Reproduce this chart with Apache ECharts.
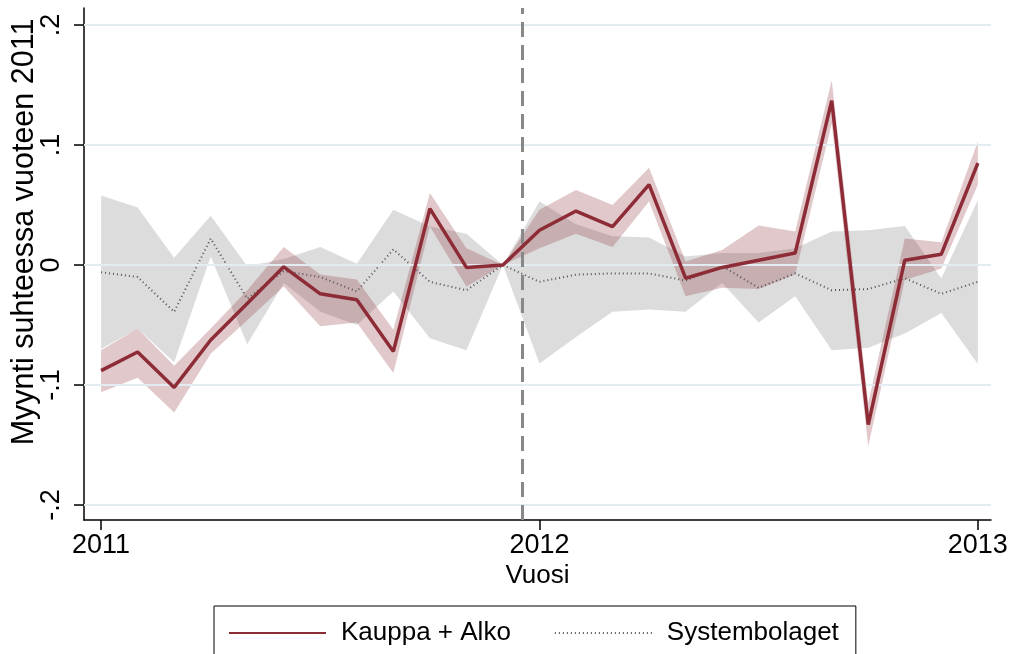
<!DOCTYPE html>
<html>
<head>
<meta charset="utf-8">
<script src="https://cdn.jsdelivr.net/npm/echarts@6/dist/echarts.min.js"></script>
<style>
  html, body { margin: 0; padding: 0; background: #fff; }
  #chart { width: 1011px; height: 654px; }
</style>
</head>
<body>
<div id="chart"></div>
<script>
// monthly observations, Jan 2011 .. Jan 2013
const months = ['2011-01','2011-02','2011-03','2011-04','2011-05','2011-06','2011-07','2011-08','2011-09','2011-10','2011-11','2011-12',
                '2012-01','2012-02','2012-03','2012-04','2012-05','2012-06','2012-07','2012-08','2012-09','2012-10','2012-11','2012-12','2013-01'];

// Kauppa + Alko, with confidence band
const kauppa     = [-0.088, -0.0725, -0.102, -0.0625, -0.032, -0.0015, -0.024, -0.029, -0.072, 0.047, -0.002, 0,
                    0.029, 0.045, 0.032, 0.067, -0.011, -0.002, 0.004, 0.010, 0.137, -0.133, 0.004, 0.009, 0.085];
const kauppaLow  = [-0.106, -0.094, -0.123, -0.074, -0.046, -0.018, -0.051, -0.048, -0.090, 0.032, -0.018, 0,
                    0.014, 0.026, 0.015, 0.053, -0.026, -0.019, -0.020, -0.008, 0.118, -0.151, -0.0125, -0.003, 0.067];
const kauppaHigh = [-0.071, -0.053, -0.084, -0.053, -0.021, 0.015, -0.008, -0.012, -0.054, 0.060, 0.014, 0,
                    0.046, 0.0625, 0.050, 0.081, 0.003, 0.0125, 0.033, 0.028, 0.154, -0.115, 0.022, 0.019, 0.103];

// Systembolaget, with confidence band
const sysbol     = [-0.006, -0.010, -0.039, 0.022, -0.028, -0.005, -0.010, -0.022, 0.013, -0.014, -0.021, 0,
                    -0.014, -0.008, -0.007, -0.007, -0.013, -0.001, -0.019, -0.007, -0.021, -0.020, -0.011, -0.024, -0.014];
const sysbolLow  = [-0.070, -0.053, -0.081, 0.007, -0.066, -0.015, -0.039, -0.050, -0.022, -0.061, -0.071, 0,
                    -0.082, -0.060, -0.039, -0.037, -0.039, -0.015, -0.048, -0.026, -0.071, -0.069, -0.057, -0.040, -0.0825];
const sysbolHigh = [0.058, 0.048, 0.006, 0.041, -0.001, 0.005, 0.015, 0.001, 0.046, 0.032, 0.026, 0,
                    0.053, 0.034, 0.024, 0.023, 0.007, 0.010, 0.010, 0.014, 0.028, 0.029, 0.0325, -0.011, 0.054];

const yTicks = [-0.2, -0.1, 0, 0.1, 0.2];
const yTickLabels = ['-.2', '-.1', '0', '.1', '.2'];
const xTicks = [2011, 2012, 2013];
const cutoff = 2011.9583;   // dashed reference line

const FONT = "'Liberation Sans', Arial, sans-serif";
const RED = '#8d2c37';

const xs = months.map(m => {
  const [y, mo] = m.split('-').map(Number);
  return y + (mo - 1) / 12;
});
const pairs = vals => vals.map((v, i) => [xs[i], v]);

// confidence band as one polygon, placed through the axes
function band(name, lo, hi, fill, z) {
  return {
    name,
    type: 'custom',
    z,
    silent: true,
    data: xs.map((x, i) => [x, lo[i], hi[i]]),
    encode: { x: 0, y: [1, 2] },
    renderItem: (params, api) => {
      if (params.dataIndex !== 0) return;
      const top = xs.map((x, i) => api.coord([x, hi[i]]));
      const bottom = xs.map((x, i) => api.coord([x, lo[i]])).reverse();
      return {
        type: 'polygon',
        shape: { points: top.concat(bottom) },
        style: { fill }
      };
    }
  };
}

const chart = echarts.init(document.getElementById('chart'));
chart.setOption({
  animation: false,
  backgroundColor: '#fff',
  grid: { left: 84, right: 20, top: 8, bottom: 134, outerBoundsMode: 'none', containLabel: false },
  xAxis: {
    type: 'value',
    min: 2010.961,
    max: 2013.03,
    name: 'Vuosi',
    nameLocation: 'middle',
    nameGap: 43,
    nameMoveOverlap: false,
    nameTextStyle: { fontFamily: FONT, fontSize: 26, color: '#000' },
    axisLine: { onZero: false, lineStyle: { color: '#000', width: 1.5 } },
    axisTick: { customValues: xTicks, length: 10, lineStyle: { color: '#000', width: 1.5 } },
    axisLabel: {
      customValues: xTicks, margin: 12,
      fontFamily: FONT, fontSize: 27, color: '#000',
      formatter: v => String(Math.round(v))
    },
    splitLine: { show: false }
  },
  yAxis: {
    type: 'value',
    min: -0.2125,
    max: 0.2142,
    name: 'Myynti suhteessa vuoteen 2011',
    nameLocation: 'middle',
    nameGap: 44,
    nameMoveOverlap: false,
    nameTextStyle: { fontFamily: FONT, fontSize: 30.5, color: '#000', padding: [0, 0, 0, 64] },
    axisLine: { show: true, onZero: false, lineStyle: { color: '#000', width: 1.5 } },
    axisTick: { show: true, customValues: yTicks, length: 10, lineStyle: { color: '#000', width: 1.5 } },
    axisLabel: {
      customValues: yTicks,
      rotate: 90,
      margin: 19,
      fontFamily: FONT, fontSize: 27, color: '#000',
      formatter: v => yTickLabels[yTicks.findIndex(t => Math.abs(t - v) < 1e-9)] ?? ''
    },
    splitLine: { show: false }
  },
  legend: {
    data: ['Kauppa + Alko', 'Systembolaget'],
    left: 214,
    top: 606,
    padding: [14, 17, 30, 14],
    itemWidth: 97,
    itemHeight: 14,
    itemGap: 43,
    itemStyle: { opacity: 0 },
    borderColor: '#000',
    borderWidth: 1,
    borderRadius: 0,
    textStyle: { fontFamily: FONT, fontSize: 26, color: '#000', padding: [0, 0, 0, 10] }
  },
  series: [
    {
      name: 'grid',
      type: 'line',
      z: 1,
      data: pairs(sysbol),
      symbol: 'none',
      lineStyle: { opacity: 0 },
      silent: true,
      markLine: {
        silent: true,
        symbol: 'none',
        label: { show: false },
        lineStyle: { color: '#e3ecf0', width: 2, type: 'solid' },
        data: yTicks.map(t => ({ yAxis: t }))
      }
    },
    band('sysbolBand', sysbolLow, sysbolHigh, 'rgba(140,140,140,0.3)', 2),
    band('kauppaBand', kauppaLow, kauppaHigh, 'rgba(144,53,59,0.27)', 3),
    {
      name: 'Systembolaget',
      type: 'line',
      z: 4,
      data: pairs(sysbol),
      symbol: 'none',
      itemStyle: { color: '#555' },
      lineStyle: { color: '#555', width: 2, type: [1, 3] }
    },
    {
      name: 'Kauppa + Alko',
      type: 'line',
      z: 5,
      data: pairs(kauppa),
      symbol: 'none',
      itemStyle: { color: RED },
      lineStyle: { color: RED, width: 3.5 },
      markLine: {
        silent: true,
        symbol: 'none',
        label: { show: false },
        lineStyle: { color: '#888', width: 3, type: [15, 8] },
        data: [{ xAxis: cutoff }]
      }
    }
  ]
});
</script>
</body>
</html>
